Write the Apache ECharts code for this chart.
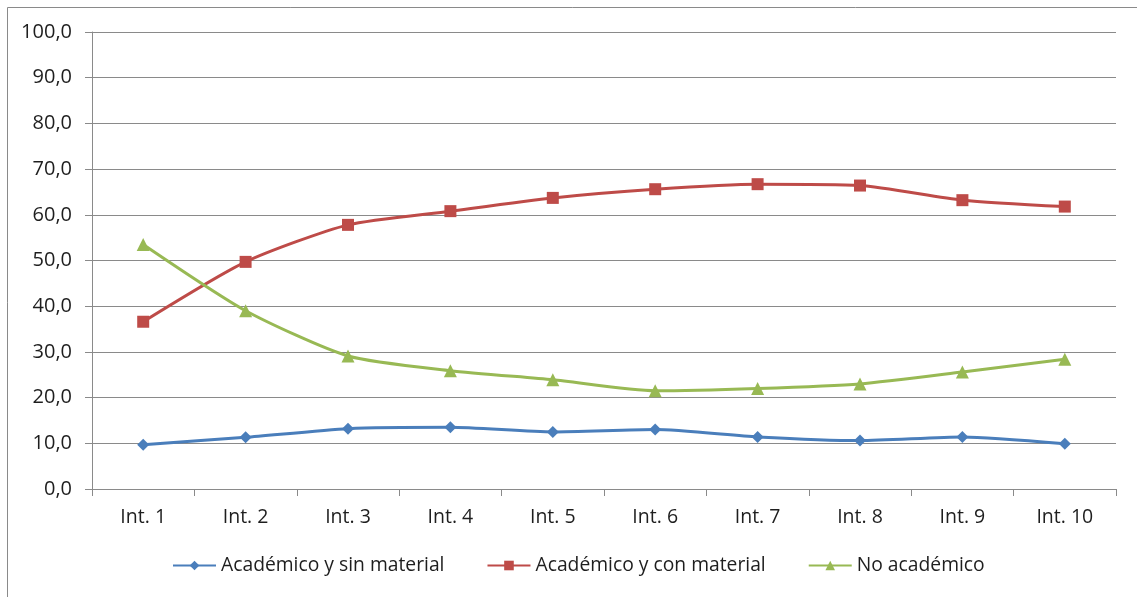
<!DOCTYPE html>
<html>
<head>
<meta charset="utf-8">
<script src="https://cdn.jsdelivr.net/npm/echarts@6/dist/echarts.min.js"></script>
<style>
  html, body { margin: 0; padding: 0; background: #ffffff; }
  #chart { width: 1137px; height: 597px; }
</style>
</head>
<body>
<div id="chart"></div>
<script>
// Categories and series values (percentages)
const categories = ['Int. 1', 'Int. 2', 'Int. 3', 'Int. 4', 'Int. 5', 'Int. 6', 'Int. 7', 'Int. 8', 'Int. 9', 'Int. 10'];
const academicoSinMaterial = [9.7, 11.3, 13.2, 13.5, 12.5, 13.0, 11.4, 10.6, 11.4, 9.9];
const academicoConMaterial = [36.6, 49.7, 57.8, 60.8, 63.7, 65.6, 66.7, 66.4, 63.2, 61.8];
const noAcademico = [53.5, 39.0, 29.1, 25.9, 23.9, 21.5, 22.0, 23.0, 25.6, 28.4];
const seriesNames = ['Académico y sin material', 'Académico y con material', 'No académico'];

const FONT = '"Open Sans", "Noto Sans", sans-serif';
const GREY = '#8a8a8a';
const TEXT = '#1e1e1e';

const chart = echarts.init(document.getElementById('chart'), null, { renderer: 'canvas' });

function lineSeries(name, data, color, symbol, size) {
  return {
    name: name,
    type: 'line',
    data: data,
    smooth: 0.22,
    symbol: symbol,
    symbolSize: size,
    showAllSymbol: true,
    lineStyle: { color: color, width: 3 },
    itemStyle: { color: color },
    emphasis: { disabled: true },
    animation: false
  };
}

chart.setOption({
  backgroundColor: '#ffffff',
  animation: false,
  graphic: [{
    type: 'rect',
    shape: { x: 7.5, y: 7.5, width: 1300, height: 700 },
    style: { fill: 'none', stroke: GREY, lineWidth: 1 },
    silent: true
  }],
  grid: { left: 92, right: 21, top: 32, bottom: 108, containLabel: false },
  legend: {
    bottom: 17,
    left: 167,
    itemWidth: 43,
    itemHeight: 12,
    itemGap: 42,
    textStyle: { fontFamily: FONT, fontSize: 19.3, color: TEXT },
    data: seriesNames
  },
  xAxis: {
    type: 'category',
    data: categories,
    boundaryGap: true,
    axisLine: { lineStyle: { color: GREY, width: 1 } },
    axisTick: { show: true, length: 7, alignWithLabel: false, lineStyle: { color: GREY } },
    axisLabel: { fontFamily: FONT, fontSize: 19.5, color: TEXT, margin: 18 },
    splitLine: { show: false }
  },
  yAxis: {
    type: 'value',
    min: 0,
    max: 100,
    interval: 10,
    axisLine: { show: true, lineStyle: { color: GREY, width: 1 } },
    axisTick: { show: true, length: 7, lineStyle: { color: GREY } },
    axisLabel: {
      fontFamily: FONT, fontSize: 20, color: TEXT, margin: 20,
      formatter: v => v.toFixed(1).replace('.', ',')
    },
    splitLine: { show: true, lineStyle: { color: GREY, width: 1 } }
  },
  series: [
    lineSeries(seriesNames[0], academicoSinMaterial, '#4A7EBB', 'diamond', 12),
    lineSeries(seriesNames[1], academicoConMaterial, '#BE4B48', 'rect', 12),
    lineSeries(seriesNames[2], noAcademico, '#98B954', 'triangle', 13)
  ]
});
</script>
</body>
</html>
